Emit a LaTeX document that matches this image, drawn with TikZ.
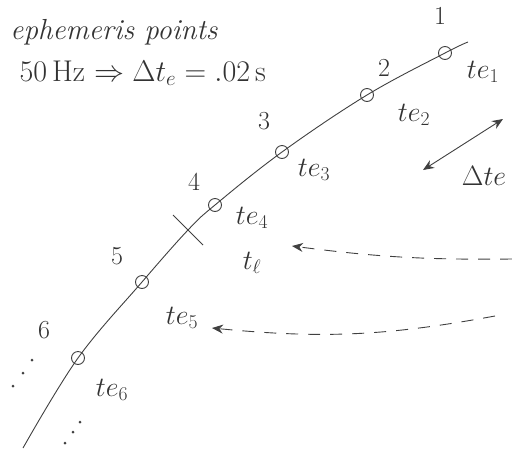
\RequirePackage{fix-cm}
\documentclass[tikz,border=0pt]{standalone}
\usetikzlibrary{arrows.meta}

\begin{document}
\begin{tikzpicture}[x=1pt, y=-1pt,
                pencil/.style={draw=black!75, line width=0.9pt},
                epoint/.style={pencil, circle, minimum size=13pt, inner sep=0pt},
                num/.style={text=black!80, font=\fontsize{26}{30}\selectfont},
                lbl/.style={text=black!80, font=\fontsize{28}{32}\selectfont},
                dot/.style={circle, fill=black!75, inner sep=0pt, minimum size=3pt},
                tip/.style={-{Stealth[length=11pt, width=9pt]}}]
                \useasboundingbox (0,0) rectangle (512,451);
                % header
                \node[lbl, font=\fontsize{29}{32}\selectfont\itshape] (title) at (114,32) {ephemeris points};
                \node[lbl, anchor=west, font=\fontsize{30}{34}\selectfont] (rate) at (16,73) {50\,Hz $\Rightarrow \Delta t_e = .02$\,s};
                % ephemeris points along the orbit
                \coordinate (top) at (468,42);
                \node[epoint] (p1) at (445,53) {};
                \node[epoint] (p2) at (367,95) {};
                \node[epoint] (p3) at (282,152) {};
                \node[epoint] (p4) at (215,205) {};
                \coordinate (tl) at (188,230);
                \node[epoint] (p5) at (142,282) {};
                \node[epoint] (p6) at (78,358) {};
                \coordinate (bot) at (23,448);
                \draw[pencil] plot[smooth, tension=0.6] coordinates {(top) (p1.center) (p2.center) (p3.center)
                    (p4.center) (tl) (p5.center) (p6.center) (bot)};
                \draw[pencil] (tl) ++(-15,-15) -- ++(30,30);
                % numbers
                \node[num] (n1) at (440,16) {1};
                \node[num] (n2) at (384,68) {2};
                \node[num] (n3) at (264,121) {3};
                \node[num] (n4) at (194,182) {4};
                \node[num] (n5) at (117,256) {5};
                \node[num] (n6) at (44,330) {6};
                % times
                \node[lbl] (te1) at (483,72) {$te_1$};
                \node[lbl] (te2) at (414,115) {$te_2$};
                \node[lbl] (te3) at (314,170) {$te_3$};
                \node[lbl] (te4) at (252,218) {$te_4$};
                \node[lbl] (tll) at (252,263) {$t_\ell$};
                \node[lbl] (te5) at (182,318) {$te_5$};
                \node[lbl] (te6) at (112,390) {$te_6$};
                % step between points
                \coordinate (da) at (503,119);
                \coordinate (db) at (423,170);
                \draw[pencil, {Stealth[length=11pt, width=9pt]}-{Stealth[length=11pt, width=9pt]}] (db) -- (da);
                \node[lbl] (dte) at (484,176) {$\Delta te$};
                % interpolated times
                \coordinate (r1) at (512,259);
                \coordinate (r2) at (495,316);
                \draw[pencil, dashed, dash pattern=on 12pt off 10pt, tip] (r1) to[bend left=4] (292,246);
                \draw[pencil, dashed, dash pattern=on 12pt off 10pt, tip] (r2) to[bend left=8] (212,328);
                % more points
                \node[dot] (d1) at (32,360) {};
                \node[dot] (d2) at (23,373) {};
                \node[dot] (d3) at (13,386) {};
                \node[dot] (d4) at (80,422) {};
                \node[dot] (d5) at (73,432) {};
                \node[dot] (d6) at (65,443) {};
\end{tikzpicture}
\end{document}
